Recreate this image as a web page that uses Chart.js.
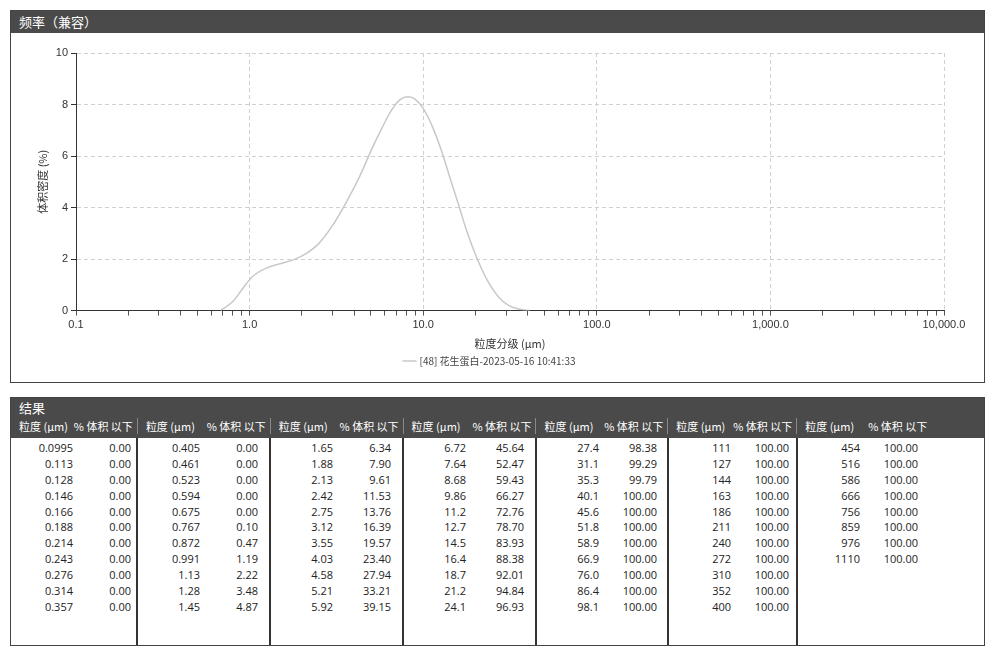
<!DOCTYPE html>
<html><head><meta charset="utf-8">
<script src="https://cdn.jsdelivr.net/npm/chart.js@4"></script>
<style>
body{margin:0;background:#fff;font-family:"Open Sans","Noto Sans CJK SC",sans-serif;}
.panel{position:absolute;left:10px;width:975px;border:1px solid #444;box-sizing:border-box;}
.bar{background:#4a4a4a;color:#fff;font-size:13px;font-family:"Noto Sans CJK SC",sans-serif;padding:0 8px;}
#chartBox{top:10px;height:373px;}
#chartBox .bar{height:22px;line-height:22px;}
#wrap{position:absolute;left:0;top:22px;width:973px;height:349px;}
#tableBox{top:397px;height:249px;}
#tableBox .bar{height:40px;padding:0;}
.cols{display:flex;height:207px;}
.col{box-sizing:border-box;border-right:2px solid #333;font-size:11px;color:#222;}
.col:last-child{border-right:none;flex:1;}
.hd{box-sizing:border-box;display:flex;justify-content:space-between;font-size:11px;padding:0 4px 0 8px;}
.row{display:flex;height:15.9px;line-height:15.9px;}
.row span{text-align:right;}
.row span:first-child{width:62px;}
.row span:last-child{width:58px;}
</style></head><body>
<div class="panel" id="chartBox"><div class="bar">频率（兼容）</div><div id="wrap"><canvas id="c"></canvas></div></div>
<div class="panel" id="tableBox"><div class="bar"><div style="font-size:13px;line-height:20px;padding-left:8px">结果</div><div id="heads" style="display:flex"></div></div><div class="cols" id="cols"></div></div>
<script>
// ===== CURVE DATA =====
const sizes = [0.68, 0.8, 0.9, 1.0, 1.1, 1.25, 1.5, 1.8, 2.1, 2.5, 3.0, 3.6, 4.3, 5.0, 5.8, 6.6, 7.4, 8.2, 9.0, 10.0, 11.2, 12.6, 14.2, 16.0, 18.0, 20.5, 23.5, 27, 31, 36, 41];
const density = [0.0, 0.35, 0.8, 1.2, 1.45, 1.65, 1.82, 1.98, 2.2, 2.6, 3.3, 4.2, 5.2, 6.2, 7.1, 7.8, 8.2, 8.3, 8.2, 7.85, 7.2, 6.3, 5.2, 4.1, 3.0, 2.0, 1.15, 0.55, 0.2, 0.05, 0.0];
const xTicks = [0.1, 1, 10, 100, 1000, 10000];
const seriesName = "[48] 花生蛋白-2023-05-16 10:41:33";

// ===== TABLE DATA =====
const tableSizes = [
  ["0.0995","0.113","0.128","0.146","0.166","0.188","0.214","0.243","0.276","0.314","0.357"],
  ["0.405","0.461","0.523","0.594","0.675","0.767","0.872","0.991","1.13","1.28","1.45"],
  ["1.65","1.88","2.13","2.42","2.75","3.12","3.55","4.03","4.58","5.21","5.92"],
  ["6.72","7.64","8.68","9.86","11.2","12.7","14.5","16.4","18.7","21.2","24.1"],
  ["27.4","31.1","35.3","40.1","45.6","51.8","58.9","66.9","76.0","86.4","98.1"],
  ["111","127","144","163","186","211","240","272","310","352","400"],
  ["454","516","586","666","756","859","976","1110"]
];
const tableCum = [
  ["0.00","0.00","0.00","0.00","0.00","0.00","0.00","0.00","0.00","0.00","0.00"],
  ["0.00","0.00","0.00","0.00","0.00","0.10","0.47","1.19","2.22","3.48","4.87"],
  ["6.34","7.90","9.61","11.53","13.76","16.39","19.57","23.40","27.94","33.21","39.15"],
  ["45.64","52.47","59.43","66.27","72.76","78.70","83.93","88.38","92.01","94.84","96.93"],
  ["98.38","99.29","99.79","100.00","100.00","100.00","100.00","100.00","100.00","100.00","100.00"],
  ["100.00","100.00","100.00","100.00","100.00","100.00","100.00","100.00","100.00","100.00","100.00"],
  ["100.00","100.00","100.00","100.00","100.00","100.00","100.00","100.00"]
];
const colWidths = [127, 133, 133, 133, 132, 129, 187];

// ===== BUILD TABLE =====
const heads = document.getElementById("heads");
const cols = document.getElementById("cols");
tableSizes.forEach((col, i) => {
  const h = document.createElement("div");
  h.className = "hd";
  h.style.width = colWidths[i] + "px";
  if (i < 6) h.style.borderRight = "1px solid #888";
  h.innerHTML = "<span>粒度 (μm)</span><span>% 体积 以下</span>";
  if (i == 6) h.style.justifyContent = "flex-start", h.style.gap = "14px";
  heads.appendChild(h);
  const c = document.createElement("div");
  c.className = "col";
  c.style.width = colWidths[i] + "px";
  c.style.paddingTop = "2px";
  c.innerHTML = col.map((s, j) => `<div class="row"><span>${s}</span><span>${tableCum[i][j]}</span></div>`).join("");
  cols.appendChild(c);
});

// ===== CHART =====
new Chart(document.getElementById("c"), {
  type: "line",
  data: {
    datasets: [{
      label: seriesName,
      data: sizes.map((s, i) => ({x: s, y: density[i]})),
      borderColor: "#c8c8c8",
      borderWidth: 1.5,
      pointRadius: 0,
      tension: 0.4,
      fill: false
    }]
  },
  options: {
    responsive: true,
    maintainAspectRatio: false,
    animation: false,
    layout: {padding: {left: 25, right: 40, top: 20, bottom: 6}},
    plugins: {
      legend: {
        position: "bottom",
        labels: {usePointStyle: true, pointStyle: "line", color: "#444", font: {size: 10, family: "Noto Sans CJK SC"}, padding: 4}
      },
      tooltip: {enabled: false}
    },
    scales: {
      x: {
        type: "logarithmic",
        min: 0.1, max: 10000,
        afterBuildTicks: ax => {
          const t = [];
          xTicks.forEach((d, k) => {
            t.push({value: d});
            if (k < xTicks.length - 1) for (let m = 2; m < 10; m++) t.push({value: d * m});
          });
          ax.ticks = t;
        },
        ticks: {
          autoSkip: false, maxRotation: 0, color: "#333", font: {size: 11},
          callback: v => xTicks.includes(v) ? v.toLocaleString("en-US", {minimumFractionDigits: 1}) : ""
        },
        grid: {
          color: c => xTicks.includes(c.tick && c.tick.value) && c.tick.value !== 0.1 ? "#d0d0d0" : "rgba(0,0,0,0)",
          tickColor: "#555",
          tickLength: 5
        },
        border: {color: "#333", dash: [4, 3]},
        title: {display: true, text: "粒度分级 (μm)", color: "#333", font: {size: 11, family: "Noto Sans CJK SC"}, padding: {top: 2, bottom: 2}}
      },
      y: {
        min: 0, max: 10,
        afterFit: ax => { ax.width = 40; },
        ticks: {stepSize: 2, color: "#333", font: {size: 11}},
        grid: {color: c => c.tick.value === 0 ? "rgba(0,0,0,0)" : "#d0d0d0", tickColor: "#333", tickLength: 5},
        border: {color: "#333", dash: [4, 3]},
        title: {display: true, text: "体积密度 (%)", color: "#333", font: {size: 11, family: "Noto Sans CJK SC"}, padding: 0}
      }
    }
  }
});
</script></body></html>
